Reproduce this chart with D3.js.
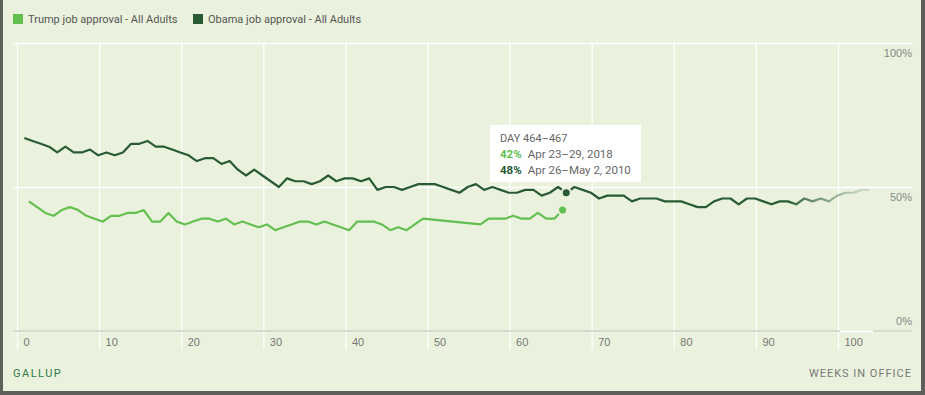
<!DOCTYPE html>
<html>
<head>
<meta charset="utf-8">
<script src="https://cdn.jsdelivr.net/npm/d3@7"></script>
<style>
  html, body { margin: 0; padding: 0; background: #5e5f5a; }
  svg { display: block; font-family: Roboto, "Open Sans", sans-serif; }
</style>
</head>
<body>
<div id="chart"></div>
<script>
// weekly approval, % (Gallup). Obama weeks start at 0.9, Trump at 1.45
const obamaStart = 0.9;
const obamaValues = [67, 66, 65, 64, 62, 64, 62, 62, 63, 61, 62, 61, 62, 65, 65, 66, 64, 64, 63, 62,
    61, 59, 60, 60, 58, 59, 56, 54, 56, 54, 52, 50, 53, 52, 52, 51, 52, 54, 52, 53,
    53, 52, 53, 49, 50, 50, 49, 50, 51, 51, 51, 50, 49, 48, 50, 51, 49, 50, 49, 48,
    48, 49, 49, 47, 48, 50, 48, 50, 49, 48, 46, 47, 47, 47, 45, 46, 46, 46, 45, 45,
    45, 44, 43, 43, 45, 46, 46, 44, 46, 46, 45, 44, 45, 45, 44, 46, 45, 46, 45, 47,
    48, 48, 49, 49];
const trumpStart = 1.45;
const trumpValues = [45, 43, 41, 40, 42, 43, 42, 40, 39, 38, 40, 40, 41, 41, 42, 38, 38, 41, 38, 37,
    38, 39, 39, 38, 39, 37, 38, 37, 36, 37, 35, 36, 37, 38, 38, 37, 38, 37, 36, 35,
    38, 38, 38, 37, 35, 36, 35, 37, 39, null, null, null, null, null, null, 37, 39, 39, 39, 40,
    39, 39, 41, 39, 39, 42];

const seriesNames = ["Trump job approval - All Adults", "Obama job approval - All Adults"];
const xTicks = [0, 10, 20, 30, 40, 50, 60, 70, 80, 90, 100];
const yTicks = [0, 50, 100];

// hovered week
const hoverTrump = 65;
const hoverObama = 66;
const tipTitle = "DAY 464–467";
const tipRows = [
    { pct: "42%", dates: "Apr 23–29, 2018" },
    { pct: "48%", dates: "Apr 26–May 2, 2010" }
];

const trumpColor = "#63bf50";
const obamaColor = "#285a33";
const bg = "#eaf2dd";

const svgWidth = 925;
const svgHeight = 395;

const svg = d3.select("#chart").append("svg")
    .attr("width", svgWidth)
    .attr("height", svgHeight);

// panel + border
svg.append("rect")
    .attr("x", 3).attr("y", 0)
    .attr("width", 918).attr("height", 391)
    .attr("fill", bg);

const x = d3.scaleLinear().domain([0, 100]).range([17, 838]);
const y = d3.scaleLinear().domain([0, 100]).range([331, 43]);

// horizontal gridlines
const yAxis = svg.append("g")
    .attr("transform", "translate(912,0)")
    .call(d3.axisRight(y).tickValues(yTicks).tickSize(-899).tickFormat(d => d + "%"));
yAxis.select(".domain").remove();
yAxis.selectAll("line").attr("stroke", "#ffffff").attr("stroke-width", 1.5);
yAxis.selectAll("text")
    .attr("x", 0)
    .attr("dy", d => d === 0 ? "-0.55em" : "1.25em")
    .attr("text-anchor", "end")
    .attr("fill", "#888")
    .style("font-size", "11px");

// vertical gridlines + week labels
const xAxis = svg.append("g")
    .attr("transform", "translate(0,350)")
    .call(d3.axisBottom(x).tickValues(xTicks).tickSize(-308));
xAxis.select(".domain").remove();
xAxis.selectAll("line").attr("stroke", "#ffffff").attr("stroke-width", 1.2);
xAxis.selectAll("text")
    .attr("x", 6)
    .attr("y", -8)
    .attr("dy", "0.35em")
    .attr("text-anchor", "start")
    .attr("fill", "#777")
    .style("font-size", "11px");

// baseline
svg.append("line")
    .attr("x1", 13).attr("x2", 840)
    .attr("y1", y(0)).attr("y2", y(0))
    .attr("stroke", "#d6dbcf").attr("stroke-width", 2);
svg.append("line")
    .attr("x1", 873).attr("x2", 912)
    .attr("y1", y(0)).attr("y2", y(0))
    .attr("stroke", "#d6dbcf").attr("stroke-width", 2);

// fade on the end of Obama's line
const grad = svg.append("defs").append("linearGradient")
    .attr("id", "obamaFade")
    .attr("gradientUnits", "userSpaceOnUse")
    .attr("x1", x(94)).attr("x2", x(104))
    .attr("y1", 0).attr("y2", 0);
grad.append("stop").attr("offset", 0).attr("stop-color", obamaColor).attr("stop-opacity", 1);
grad.append("stop").attr("offset", 1).attr("stop-color", "#8aa58b").attr("stop-opacity", 0.25);

const obamaData = obamaValues.map((v, i) => ({ w: obamaStart + i, v: v }));
const trumpData = trumpValues.map((v, i) => ({ w: trumpStart + i, v: v })).filter(d => d.v !== null);

const line = d3.line()
    .x(d => x(d.w))
    .y(d => y(d.v));

svg.append("path")
    .datum(obamaData)
    .attr("fill", "none")
    .attr("stroke", "url(#obamaFade)")
    .attr("stroke-width", 2.2)
    .attr("stroke-linejoin", "round")
    .attr("d", line);

svg.append("path")
    .datum(trumpData)
    .attr("fill", "none")
    .attr("stroke", trumpColor)
    .attr("stroke-width", 2.2)
    .attr("stroke-linejoin", "round")
    .attr("d", line);

// hover markers
const hoverPts = [
    { w: obamaStart + hoverObama, v: obamaValues[hoverObama], c: obamaColor },
    { w: trumpStart + hoverTrump, v: trumpValues[hoverTrump], c: trumpColor }
];
svg.selectAll(".hover")
    .data(hoverPts)
    .enter().append("circle")
    .attr("class", "hover")
    .attr("cx", d => x(d.w))
    .attr("cy", d => y(d.v))
    .attr("r", 4.5)
    .attr("fill", d => d.c)
    .attr("stroke", bg)
    .attr("stroke-width", 2);

// tooltip
const tip = svg.append("g").attr("transform", "translate(490,125)");
tip.append("rect")
    .attr("width", 151).attr("height", 57)
    .attr("fill", "#ffffff");
tip.append("text")
    .attr("x", 10).attr("y", 13)
    .attr("dy", "0.35em")
    .attr("fill", "#666")
    .style("font-size", "11px")
    .text(tipTitle);
const rows = tip.selectAll(".row")
    .data(tipRows)
    .enter().append("text")
    .attr("class", "row")
    .attr("x", 10)
    .attr("y", (d, i) => 29 + i * 16)
    .attr("dy", "0.35em")
    .style("font-size", "11.5px");
rows.append("tspan")
    .attr("fill", (d, i) => i === 0 ? trumpColor : obamaColor)
    .style("font-weight", "bold")
    .text(d => d.pct);
rows.append("tspan")
    .attr("dx", 6)
    .attr("fill", "#666")
    .text(d => d.dates);

// legend
const legendColors = [trumpColor, obamaColor];
const legend = svg.selectAll(".legend")
    .data(seriesNames)
    .enter().append("g")
    .attr("class", "legend")
    .attr("transform", (d, i) => `translate(${13 + i * 180},14)`);
legend.append("rect")
    .attr("width", 10).attr("height", 10)
    .attr("fill", (d, i) => legendColors[i]);
legend.append("text")
    .attr("x", 15).attr("y", 5)
    .attr("dy", "0.35em")
    .attr("fill", "#555")
    .style("font-size", "11px")
    .text(d => d);

// footer
svg.append("text")
    .attr("x", 13).attr("y", 373)
    .attr("dy", "0.35em")
    .attr("fill", "#2e7a45")
    .style("font-size", "11px")
    .style("letter-spacing", "1.5px")
    .text("GALLUP");
svg.append("text")
    .attr("x", 912).attr("y", 373)
    .attr("dy", "0.35em")
    .attr("text-anchor", "end")
    .attr("fill", "#777")
    .style("font-size", "11px")
    .style("letter-spacing", "1px")
    .text("WEEKS IN OFFICE");
</script>
</body>
</html>
